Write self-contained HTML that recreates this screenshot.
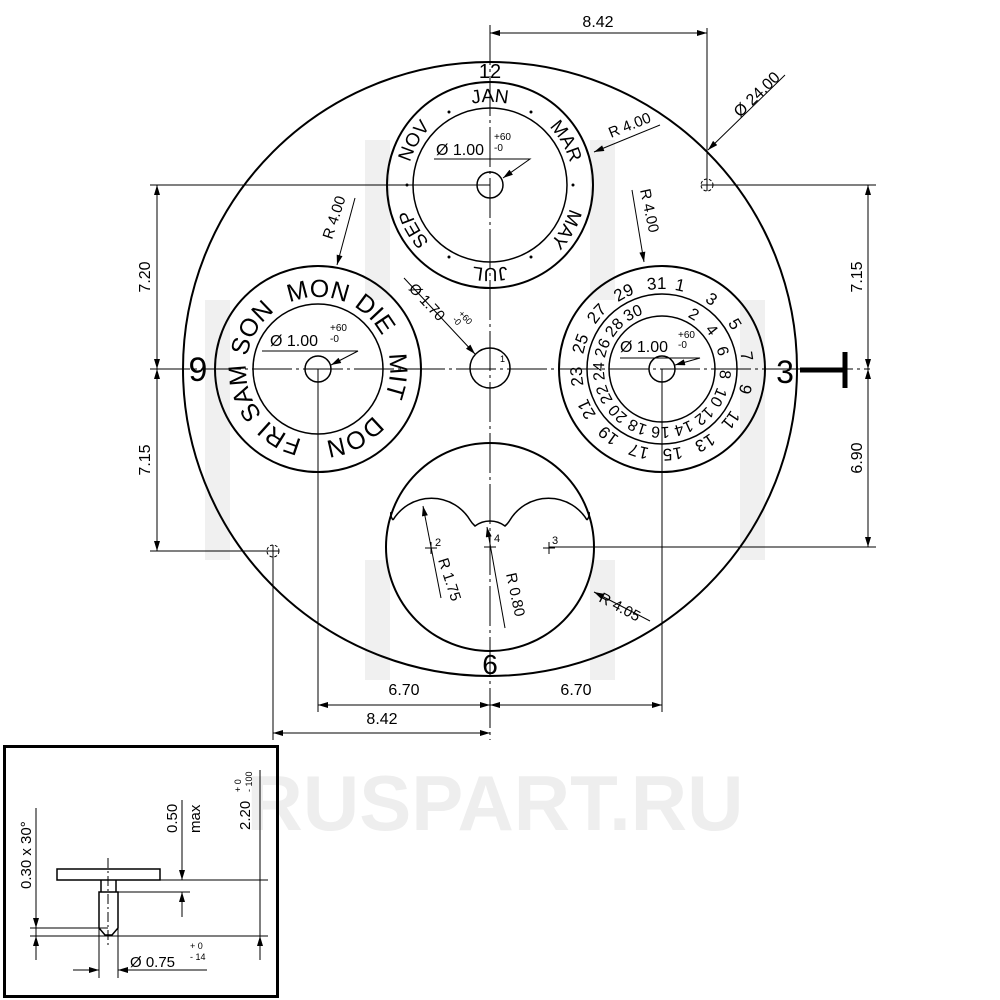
<!DOCTYPE html>
<html><head><meta charset="utf-8"><style>
html,body{margin:0;padding:0;background:#fff;}
svg{display:block;font-family:"Liberation Sans",Arial,sans-serif;}
</style></head><body>
<svg width="1000" height="1000" viewBox="0 0 1000 1000" xmlns="http://www.w3.org/2000/svg">
<defs>
<marker id="a" viewBox="0 0 10 6" refX="10" refY="3" markerWidth="12" markerHeight="6" orient="auto-start-reverse" markerUnits="userSpaceOnUse"><path d="M0,0 L10,3 L0,6 Z" fill="#000"/></marker>
<path id="pTop" d="M490,268 A83,83 0 1 1 490,102 A83,83 0 1 1 490,268 A83,83 0 1 1 490,102 A83,83 0 1 1 490,268"/>
<path id="pLeft" d="M318,441 A72,72 0 1 1 318,297 A72,72 0 1 1 318,441 A72,72 0 1 1 318,297 A72,72 0 1 1 318,441"/>
<path id="pRo" d="M662,449 A80,80 0 1 1 662,289 A80,80 0 1 1 662,449 A80,80 0 1 1 662,289 A80,80 0 1 1 662,449"/>
<path id="pRi" d="M662,427 A58,58 0 1 1 662,311 A58,58 0 1 1 662,427 A58,58 0 1 1 662,311 A58,58 0 1 1 662,427"/>
</defs>
<g fill="#f0f0f0">
<rect x="365" y="140" width="25" height="160"/><rect x="590" y="140" width="25" height="160"/>
<rect x="205" y="300" width="25" height="260"/><rect x="740" y="300" width="25" height="260"/>
<rect x="365" y="560" width="25" height="120"/><rect x="590" y="560" width="25" height="120"/>
</g>
<text x="495" y="830" text-anchor="middle" font-size="78" font-weight="bold" fill="#eeeeee">RUSPART.RU</text>

<g fill="none" stroke="#000">
<circle cx="490" cy="369" r="307" stroke-width="2"/>
<circle cx="490" cy="185" r="103" stroke-width="2"/><circle cx="490" cy="185" r="77" stroke-width="1.5"/><circle cx="490" cy="185" r="13" stroke-width="1.5"/>
<circle cx="318" cy="369" r="103" stroke-width="2"/><circle cx="318" cy="369" r="65" stroke-width="1.5"/><circle cx="318" cy="369" r="13" stroke-width="1.5"/>
<circle cx="662" cy="369" r="103" stroke-width="2"/><circle cx="662" cy="369" r="75" stroke-width="1.5"/><circle cx="662" cy="369" r="53" stroke-width="1.5"/><circle cx="662" cy="369" r="13" stroke-width="1.5"/>
<circle cx="490" cy="547" r="104" stroke-width="2"/>
<path d="M393,520 A45,45 0 0 1 470,520 A25,25 0 0 0 475,526 A25,25 0 0 1 505,526 A25,25 0 0 0 510,520 A45,45 0 0 1 587,520" stroke-width="1.5"/>
<path d="M393,520 q-3,-4 -2,-8 M587,520 q3,-4 2,-8" stroke-width="1.5"/>
<circle cx="490" cy="368" r="20" stroke-width="1.5"/>
<circle cx="707" cy="185" r="6" stroke-width="1" stroke-dasharray="3 2"/>
<circle cx="273" cy="551" r="6" stroke-width="1" stroke-dasharray="3 2"/>
</g>
<g stroke="#000" stroke-width="1" fill="none">
<path d="M701,185h12M707,179v12M267,551h12M273,545v12"/>
<path d="M425,548h12M431,542v12M543,548h12M549,542v12M484,547h12"/>
<path d="M150,369 H870" stroke-dasharray="40 4 3 4"/>
<path d="M490,25 V740" stroke-dasharray="40 4 3 4"/>
<path d="M150,185 H490 M707,185 H876 M150,551 H273 M549,547 H876"/>
<path d="M707,28 V185 M318,369 V712 M662,369 V712 M273,551 V740"/>
<path d="M490,33 H707" marker-start="url(#a)" marker-end="url(#a)"/>
<path d="M157,185 V369" marker-start="url(#a)" marker-end="url(#a)"/>
<path d="M157,369 V551" marker-start="url(#a)" marker-end="url(#a)"/>
<path d="M868,185 V369" marker-start="url(#a)" marker-end="url(#a)"/>
<path d="M868,369 V547" marker-start="url(#a)" marker-end="url(#a)"/>
<path d="M318,705 H490" marker-start="url(#a)" marker-end="url(#a)"/>
<path d="M490,705 H662" marker-start="url(#a)" marker-end="url(#a)"/>
<path d="M273,733 H490" marker-start="url(#a)" marker-end="url(#a)"/>
<path d="M785,75 L708,150" marker-end="url(#a)"/>
<path d="M660,125 L594,152" marker-end="url(#a)"/>
<path d="M632,190 L644,262" marker-end="url(#a)"/>
<path d="M355,198 L337,265" marker-end="url(#a)"/>
<path d="M404,278 L475,354" marker-end="url(#a)"/>
<path d="M650,621 L594,592" marker-end="url(#a)"/>
<path d="M441,598 L423,506" marker-end="url(#a)"/>
<path d="M505,628 L487,527" marker-end="url(#a)"/>
<path d="M434,159 H530 L503,178" marker-end="url(#a)"/>
<path d="M262,351 H358 L331,365" marker-end="url(#a)"/>
<path d="M620,358 H700 L675,365" marker-end="url(#a)"/>
</g>
<path d="M800,370 H845 M845,352 V388" stroke="#000" stroke-width="5" fill="none"/>
<g fill="#000"><circle cx="449" cy="112" r="1.5"/><circle cx="531" cy="112" r="1.5"/><circle cx="573" cy="185" r="1.5"/><circle cx="407" cy="185" r="1.5"/><circle cx="449" cy="257" r="1.5"/><circle cx="531" cy="257" r="1.5"/></g>

<g fill="#000" text-anchor="middle">
<g font-size="19">
<text><textPath href="#pTop" startOffset="25%">JAN</textPath></text>
<text><textPath href="#pTop" startOffset="33.33%">MAR</textPath></text>
<text><textPath href="#pTop" startOffset="41.67%">MAY</textPath></text>
<text><textPath href="#pTop" startOffset="50%">JUL</textPath></text>
<text><textPath href="#pTop" startOffset="58.33%">SEP</textPath></text>
<text><textPath href="#pTop" startOffset="66.67%">NOV</textPath></text>
</g>
<g font-size="25">
<text><textPath href="#pLeft" startOffset="60%">SAM</textPath></text>
<text><textPath href="#pLeft" startOffset="66.9%">SON</textPath></text>
<text><textPath href="#pLeft" startOffset="25%">MON</textPath></text>
<text><textPath href="#pLeft" startOffset="31.4%">DIE</textPath></text>
<text><textPath href="#pLeft" startOffset="38.2%">MIT</textPath></text>
<text><textPath href="#pLeft" startOffset="46.1%">DON</textPath></text>
<text><textPath href="#pLeft" startOffset="54%">FRI</textPath></text>
</g>
<g font-size="17">
<text><textPath href="#pRo" startOffset="26.7%">1</textPath></text>
<text><textPath href="#pRo" startOffset="29.9%">3</textPath></text>
<text><textPath href="#pRo" startOffset="33.1%">5</textPath></text>
<text><textPath href="#pRo" startOffset="36.3%">7</textPath></text>
<text><textPath href="#pRo" startOffset="39.4%">9</textPath></text>
<text><textPath href="#pRo" startOffset="42.6%">11</textPath></text>
<text><textPath href="#pRo" startOffset="45.8%">13</textPath></text>
<text><textPath href="#pRo" startOffset="49.0%">15</textPath></text>
<text><textPath href="#pRo" startOffset="52.2%">17</textPath></text>
<text><textPath href="#pRo" startOffset="55.4%">19</textPath></text>
<text><textPath href="#pRo" startOffset="58.6%">21</textPath></text>
<text><textPath href="#pRo" startOffset="61.8%">23</textPath></text>
<text><textPath href="#pRo" startOffset="64.9%">25</textPath></text>
<text><textPath href="#pRo" startOffset="68.1%">27</textPath></text>
<text><textPath href="#pRo" startOffset="71.3%">29</textPath></text>
<text><textPath href="#pRo" startOffset="74.5%">31</textPath></text>
</g>
<g font-size="16">
<text><textPath href="#pRi" startOffset="29.2%">2</textPath></text>
<text><textPath href="#pRi" startOffset="32.2%">4</textPath></text>
<text><textPath href="#pRi" startOffset="35.2%">6</textPath></text>
<text><textPath href="#pRi" startOffset="38.2%">8</textPath></text>
<text><textPath href="#pRi" startOffset="41.2%">10</textPath></text>
<text><textPath href="#pRi" startOffset="44.2%">12</textPath></text>
<text><textPath href="#pRi" startOffset="47.2%">14</textPath></text>
<text><textPath href="#pRi" startOffset="50.2%">16</textPath></text>
<text><textPath href="#pRi" startOffset="53.2%">18</textPath></text>
<text><textPath href="#pRi" startOffset="56.2%">20</textPath></text>
<text><textPath href="#pRi" startOffset="59.2%">22</textPath></text>
<text><textPath href="#pRi" startOffset="62.2%">24</textPath></text>
<text><textPath href="#pRi" startOffset="65.2%">26</textPath></text>
<text><textPath href="#pRi" startOffset="68.2%">28</textPath></text>
<text><textPath href="#pRi" startOffset="71.2%">30</textPath></text>
</g>
</g>

<g fill="#000">
<text x="490" y="78" font-size="20" text-anchor="middle">12</text>
<text x="490" y="674" font-size="28" text-anchor="middle">6</text>
<text x="198" y="381" font-size="34" text-anchor="middle">9</text>
<text x="785" y="383" font-size="32" text-anchor="middle">3</text>
<text x="500" y="362" font-size="9">1</text>
<text x="435" y="546" font-size="11">2</text>
<text x="552" y="544" font-size="11">3</text>
<text x="494" y="542" font-size="11">4</text>

<text x="436" y="155" font-size="16">Ø 1.00</text><text x="494" y="140" font-size="10">+60</text><text x="494" y="151" font-size="10">-0</text>
<text x="270" y="346" font-size="16">Ø 1.00</text><text x="330" y="331" font-size="10">+60</text><text x="330" y="342" font-size="10">-0</text>
<text x="620" y="352" font-size="16">Ø 1.00</text><text x="678" y="338" font-size="10">+60</text><text x="678" y="348" font-size="10">-0</text>

<text x="598" y="27" font-size="16" text-anchor="middle">8.42</text>
<text x="404" y="695" font-size="16" text-anchor="middle">6.70</text>
<text x="576" y="695" font-size="16" text-anchor="middle">6.70</text>
<text x="382" y="724" font-size="16" text-anchor="middle">8.42</text>
<text transform="translate(150,277) rotate(-90)" font-size="16" text-anchor="middle">7.20</text>
<text transform="translate(150,460) rotate(-90)" font-size="16" text-anchor="middle">7.15</text>
<text transform="translate(862,277) rotate(-90)" font-size="16" text-anchor="middle">7.15</text>
<text transform="translate(862,458) rotate(-90)" font-size="16" text-anchor="middle">6.90</text>
<text transform="translate(740,118) rotate(-44)" font-size="16">Ø 24.00</text>
<text transform="translate(611,138) rotate(-22)" font-size="15">R 4.00</text>
<text transform="translate(640,190) rotate(78)" font-size="15">R 4.00</text>
<text transform="translate(332,240) rotate(-72)" font-size="15">R 4.00</text>
<text transform="translate(408,289) rotate(47)" font-size="15">Ø 1.70</text><text transform="translate(458,314) rotate(47)" font-size="9">+60</text><text transform="translate(452,320) rotate(47)" font-size="9">-0</text>
<text transform="translate(598,601) rotate(28)" font-size="15">R 4.05</text>
<text transform="translate(438,560) rotate(72)" font-size="15">R 1.75</text>
<text transform="translate(506,574) rotate(78)" font-size="15">R 0.80</text>
</g>

<rect x="4.5" y="746.5" width="273" height="250" fill="none" stroke="#000" stroke-width="3"/>
<g stroke="#000" stroke-width="1" fill="none">
<rect x="57" y="869" width="103" height="11" stroke-width="1.5"/>
<path d="M101,880 V892 M116,880 V892" stroke-width="1.5"/>
<path d="M99,892 H118 V928 L112,935 H105 L99,928 Z" stroke-width="1.5"/>
<path d="M108,858 V948" stroke-dasharray="10 3 2 3"/>
<path d="M160,880 H268 M118,892 H190 M30,928 H108 M30,936 H268"/>
<path d="M36,808 V960"/>
<path d="M36,912 V928" marker-end="url(#a)"/><path d="M36,952 V936" marker-end="url(#a)"/>
<path d="M182,800 V880" marker-end="url(#a)"/><path d="M182,917 V892" marker-end="url(#a)"/>
<path d="M260,770 V960"/><path d="M260,950 V936" marker-end="url(#a)"/>
<path d="M99,928 V978 M118,928 V978"/>
<path d="M73,970 H99" marker-end="url(#a)"/><path d="M207,970 H118" marker-end="url(#a)"/>
</g>
<g fill="#000">
<text transform="translate(31,889) rotate(-90)" font-size="15">0.30 x 30°</text>
<text transform="translate(177,833) rotate(-90)" font-size="15">0.50</text>
<text transform="translate(200,833) rotate(-90)" font-size="15">max</text>
<text transform="translate(250,830) rotate(-90)" font-size="15">2.20</text>
<text transform="translate(241,792) rotate(-90)" font-size="9">+ 0</text>
<text transform="translate(252,792) rotate(-90)" font-size="9">- 100</text>
<text x="130" y="967" font-size="15">Ø 0.75</text><text x="190" y="949" font-size="9">+ 0</text><text x="190" y="960" font-size="9">- 14</text>
</g>
</svg>
</body></html>
